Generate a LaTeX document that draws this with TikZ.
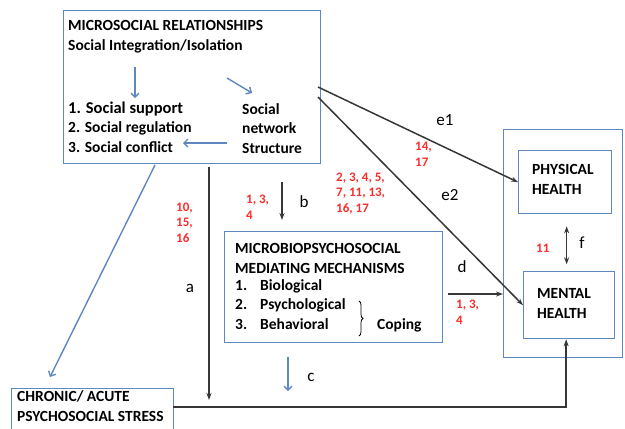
\documentclass[tikz,border=0pt]{standalone}
\usepackage{fontspec}
\setmainfont{Carlito}
\usetikzlibrary{arrows.meta,calc,decorations.pathreplacing}
\definecolor{boxblue}{RGB}{95,135,192}
\definecolor{refred}{RGB}{250,45,45}
\definecolor{linegray}{RGB}{55,55,55}

\begin{document}
\begin{tikzpicture}[x=1pt,y=-1pt,
    every node/.style={font=\bfseries\fontsize{15.5}{19.5}\selectfont},
    box/.style={draw=boxblue, line width=1.3pt, anchor=north west, inner sep=0pt},
    txt/.style={align=left, anchor=base west, inner sep=0pt},
    ref/.style={txt, text=refred, font=\bfseries\fontsize{13}{15.5}\selectfont},
    lbl/.style={inner sep=0pt, font=\fontsize{17}{18}\selectfont},
    blue arrow/.style={draw=boxblue, line width=1.4pt, -{Straight Barb[length=4pt,width=8pt]}},
    black arrow/.style={draw=linegray, line width=1.5pt, -{Stealth[length=7pt,width=5pt]}}]
    \useasboundingbox (0,0) rectangle (625,429);

    % Boxes
    \node[box, minimum width=257, minimum height=153] (micro) at (63,10) {};
    \node[box, minimum width=218, minimum height=111] (mediate) at (224,231) {};
    \node[box, minimum width=119, minimum height=228] (health) at (503,129) {};
    \node[box, minimum width=93, minimum height=63] (phys) at (518,150) {};
    \node[box, minimum width=91, minimum height=67] (mental) at (523,271) {};
    \node[box, minimum width=162, minimum height=50] (stress) at (11,388) {};

    % Box texts (placed by the baseline of their last line)
    \node[txt] (microtitle) at (68,50) {MICROSOCIAL RELATIONSHIPS\\Social Integration/Isolation};
    \node[txt] (ties) at (68,152) {{\fontsize{16.5}{19.5}\selectfont 1. Social support}\\2. Social regulation\\3. Social conflict};
    \node[txt] (net) at (242,153) {Social\\network\\Structure};
    \node[txt] (medtitle) at (235,273) {MICROBIOPSYCHOSOCIAL\\MEDIATING MECHANISMS};
    \node[txt] (mednum) at (235,329) {1.\\2.\\3.};
    \node[txt] (medlist) at (260,329) {Biological\\Psychological\\Behavioral};
    \node[txt] (coping) at (377,329) {Coping};
    \node[txt] (physname) at (532,194) {PHYSICAL\\HEALTH};
    \node[txt] (mentname) at (537,318) {MENTAL\\HEALTH};
    \node[txt] (stressname) at (17,421) {CHRONIC/ ACUTE\\PSYCHOSOCIAL STRESS};
    \draw[decorate, decoration={brace, amplitude=4pt}, line width=0.8pt] (359,301) -- (359,336);

    % Path labels
    \node[lbl] (la) at (190,288) {a};
    \node[lbl] (lb) at (304,202) {b};
    \node[lbl] (lc) at (311,377) {c};
    \node[lbl] (ld) at (462,267) {d};
    \node[lbl] (le1) at (445,120) {e1};
    \node[lbl] (le2) at (450,195) {e2};
    \node[lbl] (lf) at (582,243) {f};

    % Study numbers
    \node[ref] (refa) at (176,242) {10,\\15,\\16};
    \node[ref] (refb) at (246,219) {1, 3,\\4};
    \node[ref] (refe2) at (336,212) {2, 3, 4, 5,\\7, 11, 13,\\16, 17};
    \node[ref] (refe1) at (415,166) {14,\\17};
    \node[ref] (reff) at (536,252) {11};
    \node[ref] (refd) at (456,324) {1, 3,\\4};

    % Free ends of connectors
    \coordinate (Ie) at (135,67);
    \coordinate (Ne) at (227,78);
    \coordinate (Nc) at (227,143);
    \coordinate (E1) at (318,87);
    \coordinate (E2) at (318,97);
    \coordinate (A0) at (209,167);
    \coordinate (B0) at (282,182);
    \coordinate (C0) at (288,357);
    \coordinate (D0) at (448,294);
    \coordinate (S0) at (155,165);
    \coordinate (SL) at (173,407);

    % Inside microsocial box
    \draw[blue arrow] (Ie) -- ++(0,31);
    \draw[blue arrow] (Ne) -- ++(25,15);
    \draw[blue arrow] (Nc) -- ++(-44,0);

    % Connectors
    \draw[blue arrow] (S0) -- ($(stress.north west)+(39,-11)$);
    \draw[black arrow] (E1) -- (phys.west);
    \draw[black arrow] (E2) -- (mental.west);
    \draw[black arrow] (A0) -- ($(A0 |- SL)+(0,-7)$);
    \draw[black arrow] (B0) -- ($(B0 |- mediate.north)+(0,-11)$);
    \draw[blue arrow] (C0) -- ($(C0 |- SL)+(0,-16)$);
    \draw[black arrow] (D0) -- (D0 -| health.west);
    \draw[black arrow, {Stealth[length=7pt,width=5pt]}-{Stealth[length=7pt,width=5pt]}] ($(phys.south)+(1.5,12)$) -- ($(phys.south)+(1.5,50)$);
    \draw[black arrow] (SL) -| ($(mental.south)+(-3,0)$);
\end{tikzpicture}
\end{document}
